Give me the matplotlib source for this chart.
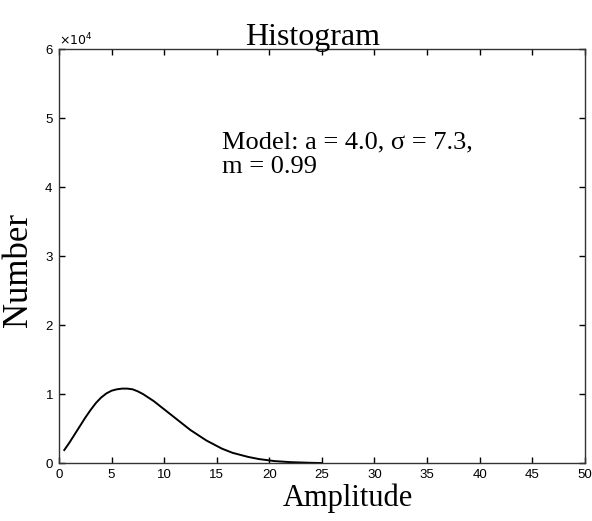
import matplotlib
matplotlib.use("Agg")
import matplotlib.pyplot as plt

# amplitude bins and counts
amplitude = [0.5, 1, 1.5, 2, 2.5, 3, 3.5, 4, 4.5, 5, 5.5, 6, 6.5, 7, 7.5, 8,
             8.5, 9, 9.5, 10, 10.5, 11, 11.5, 12, 12.5, 13, 13.5, 14, 14.5,
             15, 15.5, 16, 16.5, 17, 17.5, 18, 18.5, 19, 19.5, 20, 20.5, 21,
             21.5, 22, 23, 24, 25]
counts = [1900, 3000, 4200, 5400, 6600, 7700, 8700, 9500, 10100, 10500,
          10700, 10800, 10800, 10700, 10400, 10000, 9500, 9000, 8400, 7800,
          7200, 6600, 6000, 5400, 4800, 4300, 3800, 3300, 2900, 2500, 2100,
          1800, 1500, 1300, 1100, 900, 750, 600, 500, 400, 300, 250, 200,
          150, 100, 50, 20]
xticks = list(range(0, 51, 5))
yticks = [0, 10000, 20000, 30000, 40000, 50000, 60000]

serif = "Liberation Serif"

fig = plt.figure(figsize=(5.92, 5.21), dpi=100)
ax = fig.add_axes([0.0997, 0.111, 0.888, 0.795])
ax.plot(amplitude, counts, color="black", lw=1.4)

ax.set_xlim(0, 50)
ax.set_ylim(0, 60000)
ax.set_xticks(xticks)
ax.set_yticks(yticks)
ax.ticklabel_format(axis="y", style="sci", scilimits=(0, 0), useMathText=True)
ax.yaxis.get_offset_text().set_fontsize(9)
ax.tick_params(direction="in", length=4, width=1, top=True, right=True,
               labelsize=9.5, pad=4)
for lab in ax.get_xticklabels() + ax.get_yticklabels():
    lab.set_fontfamily("Liberation Sans")
for s in ax.spines.values():
    s.set_linewidth(1.0)
    s.set_color("#333333")

ax.set_title("Histogram", fontfamily=serif, fontsize=23, pad=3, x=0.482)
ax.set_xlabel("Amplitude", fontfamily=serif, fontsize=22, labelpad=0)
ax.xaxis.set_label_coords(0.55, -0.05, transform=ax.transAxes)
ax.xaxis.label.set_va("top")
ax.set_ylabel("Number", fontfamily=serif, fontsize=25)
ax.yaxis.set_label_coords(-0.045, 0.466, transform=ax.transAxes)

ax.text(0.31, 0.80, "Model: a = 4.0, σ = 7.3,\nm = 0.99", transform=ax.transAxes,
        fontfamily=serif, fontsize=19, va="top", ha="left", linespacing=1.1)

fig.savefig("out.png", dpi=100)
